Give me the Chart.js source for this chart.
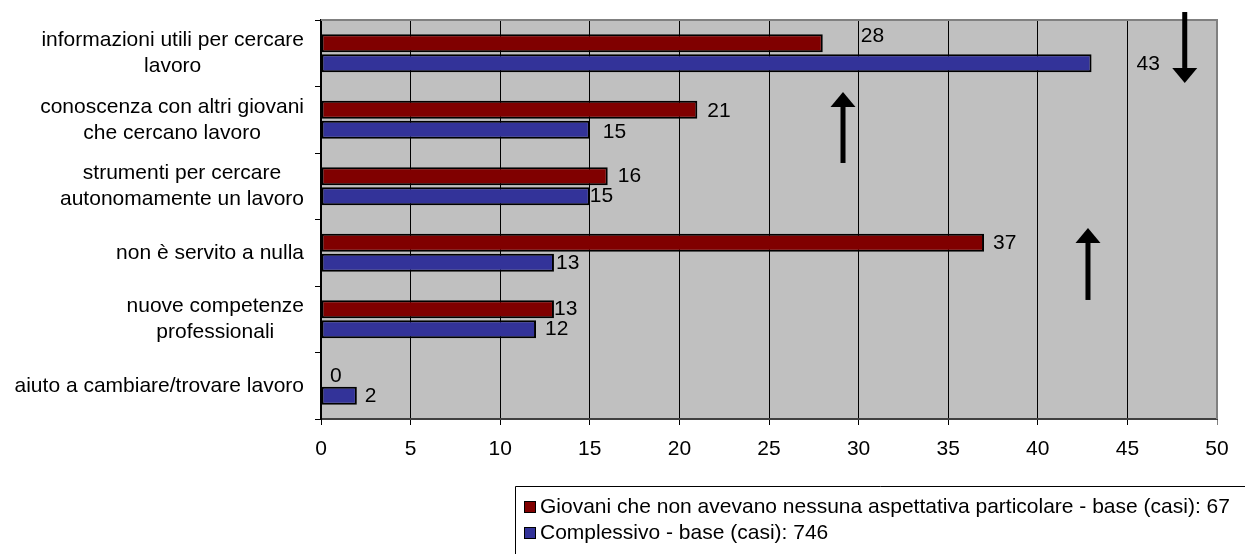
<!DOCTYPE html>
<html><head><meta charset="utf-8">
<script src="https://cdn.jsdelivr.net/npm/chart.js@4.4.1/dist/chart.umd.min.js"></script>
<style>html,body{margin:0;padding:0;background:#fff;overflow:hidden;} canvas{display:block;}</style>
</head><body>
<canvas id="c" width="1245" height="554"></canvas>
<script>
// ---- data ----
const categories = [
  ["informazioni utili per cercare", "lavoro"],
  ["conoscenza con altri giovani", "che cercano lavoro"],
  ["strumenti per cercare", "autonomamente un lavoro"],
  ["non è servito a nulla"],
  ["nuove competenze", "professionali"],
  ["aiuto a cambiare/trovare lavoro"]
];
const seriesNames = [
  "Giovani che non avevano nessuna aspettativa particolare - base (casi): 67",
  "Complessivo - base (casi): 746"
];
const giovaniValues = [28, 21, 16, 37, 13, 0];
const complessivoValues = [43, 15, 15, 13, 12, 2];
const xTickValues = [0, 5, 10, 15, 20, 25, 30, 35, 40, 45, 50];

// ---- styling / annotation config ----
const FONT = '"Liberation Sans", Arial, Helvetica, sans-serif';
const RED = '#800000', BLUE = '#333399', PLOT_BG = '#C0C0C0';
// per-label nudges [dx from bar end, dy from bar centre] in px
const labelNudges = [
  [[38, -7], [10, 1], [10, 0], [9, 0], [0, 0], [9, 0]],
  [[45, 1], [13, 2], [0, 0], [2, 0], [9, 0], [8, 0]]
];
// arrows in data space: x value, y from (category index) -> y to (tip)
const arrows = [
  { x: 48.2, from: -0.62, to: 0.447 },
  { x: 29.13, from: 1.65, to: 0.583 },
  { x: 42.8, from: 3.71, to: 2.628 }
];

const bgPlugin = {
  id: 'bg',
  beforeDraw(chart) {
    const { ctx, chartArea: a } = chart;
    ctx.save();
    ctx.fillStyle = '#fff';
    ctx.fillRect(0, 0, chart.width, chart.height);
    ctx.fillStyle = PLOT_BG;
    ctx.fillRect(a.left, a.top, a.right - a.left, a.bottom - a.top);
    ctx.restore();
  },
  beforeDatasetsDraw(chart) {
    const { ctx, chartArea: a } = chart;
    ctx.save();
    ctx.strokeStyle = '#808080';
    ctx.lineWidth = 2;
    ctx.beginPath();
    ctx.moveTo(a.left, a.top);
    ctx.lineTo(a.right, a.top);
    ctx.lineTo(a.right, a.bottom);
    ctx.stroke();
    ctx.restore();
  }
};

const labelsPlugin = {
  id: 'texts',
  afterDraw(chart) {
    const { ctx } = chart;
    const ys = chart.scales.y, xs = chart.scales.x;
    ctx.save();
    ctx.fillStyle = '#000';
    ctx.font = '21px ' + FONT;
    // category labels: centred blocks, right edge near axis
    const rightEdge = ys.right - 17;
    categories.forEach((lines, i) => {
      const cy = ys.getPixelForValue(i);
      const maxW = Math.max(...lines.map(l => ctx.measureText(l).width));
      const cx = rightEdge - maxW / 2;
      ctx.textAlign = 'center';
      ctx.textBaseline = 'middle';
      lines.forEach((l, j) => {
        ctx.fillText(l, cx, cy + (j - (lines.length - 1) / 2) * 26);
      });
    });
    // data labels
    ctx.textAlign = 'left';
    ctx.textBaseline = 'middle';
    chart.data.datasets.forEach((ds, di) => {
      const meta = chart.getDatasetMeta(di);
      meta.data.forEach((bar, i) => {
        const n = labelNudges[di][i];
        ctx.fillText(String(ds.data[i]), bar.x + n[0], bar.y + n[1]);
      });
    });
    // arrows
    ctx.fillStyle = '#000';
    arrows.forEach(a => {
      const x = xs.getPixelForValue(a.x);
      const y1 = ys.getPixelForValue(a.from);
      const y2 = ys.getPixelForValue(a.to);
      const dir = y2 > y1 ? 1 : -1;
      const headLen = 15, headHalf = 12.5, shaft = 5;
      const yb = y2 - dir * headLen;
      ctx.fillRect(x - shaft / 2, Math.min(y1, yb), shaft, Math.abs(yb - y1));
      ctx.beginPath();
      ctx.moveTo(x - headHalf, yb);
      ctx.lineTo(x + headHalf, yb);
      ctx.lineTo(x, y2);
      ctx.closePath();
      ctx.fill();
    });
    // legend
    const lx = 515, ly = 486;
    ctx.strokeStyle = '#000';
    ctx.lineWidth = 1;
    ctx.beginPath();
    ctx.moveTo(chart.width + 5, ly + 0.5);
    ctx.lineTo(lx + 0.5, ly + 0.5);
    ctx.lineTo(lx + 0.5, chart.height + 5);
    ctx.stroke();
    const rows = [507, 533];
    const cols = [RED, BLUE];
    rows.forEach((ry, k) => {
      ctx.fillStyle = cols[k];
      ctx.fillRect(524, ry - 6, 12, 12);
      ctx.strokeStyle = '#000';
      ctx.strokeRect(524.5, ry - 5.5, 11, 11);
      ctx.fillStyle = '#000';
      ctx.textAlign = 'left';
      ctx.textBaseline = 'middle';
      ctx.fillText(seriesNames[k], 540, ry);
    });
    ctx.restore();
  }
};

new Chart(document.getElementById('c'), {
  type: 'bar',
  data: {
    labels: categories.map(l => l.join(' ')),
    datasets: [
      { label: seriesNames[0], data: giovaniValues, backgroundColor: RED, borderColor: '#000', borderWidth: 2, borderSkipped: false },
      { label: seriesNames[1], data: complessivoValues, backgroundColor: BLUE, borderColor: '#000', borderWidth: 2, borderSkipped: false }
    ]
  },
  options: {
    indexAxis: 'y',
    responsive: false,
    animation: false,
    devicePixelRatio: 1,
    layout: { padding: { top: 20, right: 28, left: 0, bottom: 0 } },
    datasets: { bar: { categoryPercentage: 0.6, barPercentage: 0.9 } },
    plugins: { legend: { display: false }, tooltip: { enabled: false } },
    scales: {
      x: {
        type: 'linear', min: 0, max: 50,
        afterBuildTicks: s => { s.ticks = xTickValues.map(v => ({ value: v })); },
        afterFit: s => { s.height = 135; },
        ticks: { autoSkip: false, maxRotation: 0, padding: 12, color: '#000', font: { family: FONT, size: 21 } },
        grid: { color: c => (c.tick && c.tick.value === 50) ? '#808080' : '#000', lineWidth: 1, drawTicks: true, tickLength: 6 },
        border: { display: true, color: '#404040', width: 2 }
      },
      y: {
        type: 'category', offset: true,
        afterFit: s => { s.width = 321; },
        ticks: { display: false },
        grid: { offset: true, drawOnChartArea: false, drawTicks: true, tickLength: 6, color: '#000' },
        border: { display: true, color: '#000', width: 2 }
      }
    }
  },
  plugins: [bgPlugin, labelsPlugin]
});
</script>
</body></html>
